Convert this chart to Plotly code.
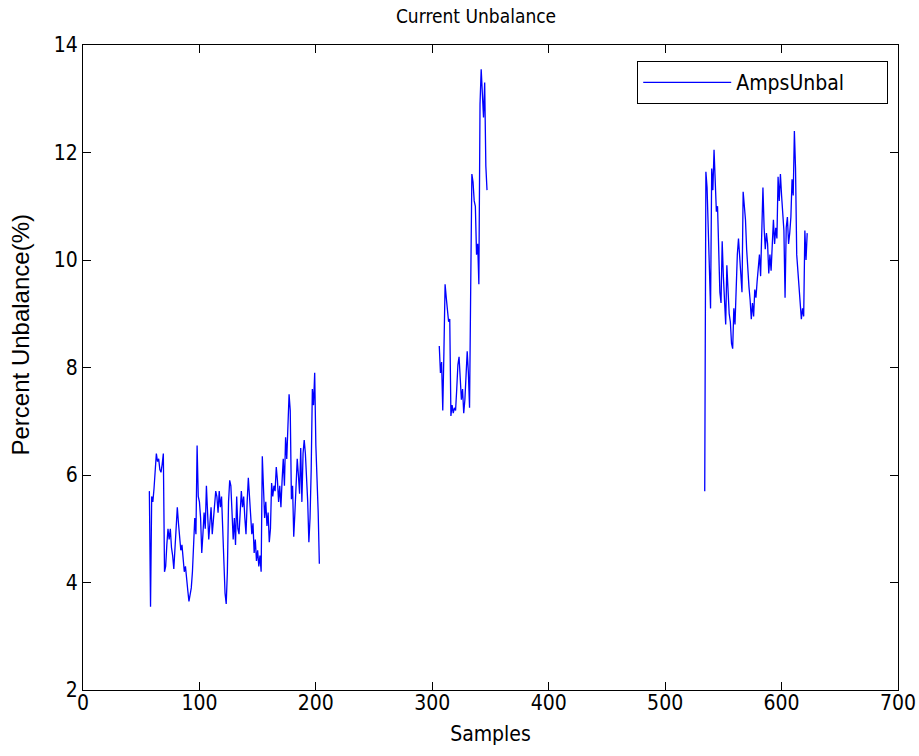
import plotly.graph_objects as go

# Segment 1: samples 57..203
seg1_start = 57
seg1_vals = [
    5.7, 3.55, 5.6, 5.5, 5.75, 6.0, 6.4, 6.25, 6.3, 6.1,
    6.05, 6.2, 6.4, 4.2, 4.3, 4.7, 5.0, 4.8, 5.0, 4.65,
    4.5, 4.25, 4.6, 4.9, 5.4, 5.1, 4.9, 4.6, 4.7, 4.4,
    4.2, 4.3, 4.0, 3.85, 3.65, 3.75, 3.9, 4.2, 4.85, 5.2,
    4.9, 6.55, 5.6, 5.5, 5.2, 4.55, 4.9, 5.3, 5.0, 5.8,
    5.3, 4.8, 5.1, 5.4, 4.9, 5.2, 5.5, 5.7, 5.6, 5.3,
    5.7, 5.4, 5.6, 5.0, 4.3, 3.8, 3.6, 4.2, 5.5, 5.9,
    5.8, 5.4, 4.8, 5.2, 4.7, 5.6, 5.0, 4.9, 5.3, 5.7,
    5.4, 5.6, 5.2, 4.9, 5.5, 5.95, 5.6, 5.3, 4.9, 5.1,
    4.55, 4.8, 4.4, 4.6, 4.3, 4.5, 4.2, 6.35, 5.6, 5.2,
    5.5, 5.05, 5.3, 4.75, 5.0, 5.85, 5.6, 5.8, 5.7, 6.15,
    5.9, 5.5, 5.8, 5.4, 5.9, 6.3, 5.8, 6.7, 6.3, 7.15,
    7.5, 7.2, 5.55, 5.8, 4.85, 5.3, 5.9, 6.3, 6.0, 5.65,
    6.5, 5.5, 6.4, 6.65, 6.4, 6.0, 5.5, 4.75, 5.2, 6.1,
    7.6, 7.3, 7.9, 6.55, 6.0, 5.3, 4.35,
]

# Segment 2: samples 306..347
seg2_start = 306
seg2_vals = [
    8.4, 7.9, 8.1, 7.2, 8.3, 9.55, 9.3, 9.1, 8.85, 8.9,
    7.1, 7.3, 7.15, 7.25, 7.2, 7.6, 8.05, 8.2, 7.8, 7.4,
    7.6, 7.15, 7.4, 7.9, 8.3, 7.9, 7.25, 9.5, 11.6, 11.45,
    11.1, 11.0, 10.1, 10.3, 9.55, 12.9, 13.55, 13.1, 12.65, 13.3,
    11.75, 11.3,
]

# Segment 3: samples 534..622
seg3_start = 534
seg3_vals = [
    5.7, 11.64, 11.35, 10.6, 9.8, 9.1, 11.7, 11.3, 12.05, 11.3,
    10.9, 11.0, 10.3, 9.4, 9.2, 10.35, 9.7, 9.2, 8.8, 9.9,
    9.45, 9.0, 8.85, 8.45, 8.35, 9.1, 8.8, 9.7, 10.1, 10.4,
    10.0, 9.7, 9.4, 11.27, 11.06, 10.75, 10.2, 9.7, 9.5, 9.25,
    8.9, 9.2, 8.95, 9.45, 9.3, 9.6, 9.8, 10.1, 9.7, 10.9,
    11.35, 10.6, 10.2, 10.5, 10.3, 9.75, 10.1, 9.8, 10.4, 10.75,
    10.3, 10.6, 10.4, 11.55, 11.1, 11.6, 11.2, 10.9, 10.55, 9.3,
    10.6, 10.8, 10.3, 10.5, 10.8, 11.5, 11.2, 12.4, 11.7, 10.1,
    9.8, 9.5, 9.25, 8.9, 9.1, 8.95, 10.55, 10.0, 10.5,
]

x_ticks = [0, 100, 200, 300, 400, 500, 600, 700]
y_ticks = [2, 4, 6, 8, 10, 12, 14]

xs, ys = [], []
for start, vals in [(seg1_start, seg1_vals), (seg2_start, seg2_vals), (seg3_start, seg3_vals)]:
    xs += [start + i for i in range(len(vals))] + [None]
    ys += list(vals) + [None]

narrow = "Liberation Sans Narrow, DejaVu Sans Condensed, Arial Narrow, sans-serif"
regular = "Liberation Sans, Arial, sans-serif"

fig = go.Figure()
fig.add_trace(go.Scatter(
    x=xs, y=ys, mode="lines", name="AmpsUnbal",
    line=dict(color="#0000ff", width=1.3), connectgaps=False,
))

axis_common = dict(
    showgrid=False, zeroline=False, ticks="inside", ticklen=8,
    tickcolor="black", tickwidth=1, showline=True, linecolor="black",
    linewidth=1, mirror="ticks", automargin=False,
    tickfont=dict(size=21, color="black", family=narrow),
)

fig.update_layout(
    width=919, height=756,
    margin=dict(l=83, r=21, t=45, b=66),
    paper_bgcolor="white", plot_bgcolor="white",
    title=dict(text="Current Unbalance", x=0.518, xanchor="center", y=0.979, yanchor="middle",
               font=dict(size=19, color="black", family=narrow)),
    xaxis=dict(range=[0, 700], tickvals=x_ticks, ticklabelstandoff=-6,
               title=dict(text="Samples", font=dict(size=21, color="black", family=narrow), standoff=12),
               **axis_common),
    yaxis=dict(range=[2, 14], tickvals=y_ticks, **axis_common),
    annotations=[dict(text="Percent Unbalance(%)", xref="paper", yref="paper",
                      x=-0.077, y=0.55, xanchor="center", yanchor="middle",
                      textangle=-90, showarrow=False,
                      font=dict(size=24, color="black", family=regular))],
    showlegend=True,
    legend=dict(x=0.988, xanchor="right", y=0.975, yanchor="top", orientation="h",
                bordercolor="black", borderwidth=1, bgcolor="white",
                font=dict(size=21, color="black", family=narrow),
                itemwidth=88, entrywidth=146, entrywidthmode="pixels"),
)

fig.write_html("out.html", post_script="document.body.style.margin='0px';",
               config={"displayModeBar": False})
